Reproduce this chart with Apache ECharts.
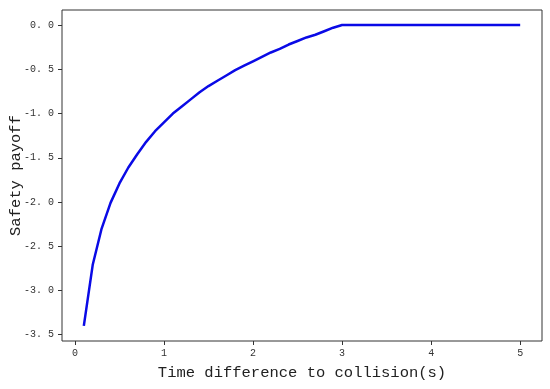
<!DOCTYPE html>
<html>
<head>
<meta charset="utf-8">
<script src="https://cdn.jsdelivr.net/npm/echarts@6/dist/echarts.min.js"></script>
<style>
  html, body { margin: 0; padding: 0; background: #fff; }
  #chart { width: 550px; height: 389px; }
</style>
</head>
<body>
<div id="chart"></div>
<script>
// time difference to collision (s)
const timeDiff = [
  0.1, 0.2, 0.3, 0.4, 0.5, 0.6, 0.7, 0.8, 0.9, 1.0,
  1.1, 1.2, 1.3, 1.4, 1.5, 1.6, 1.7, 1.8, 1.9, 2.0,
  2.1, 2.2, 2.3, 2.4, 2.5, 2.6, 2.7, 2.8, 2.9, 3.0,
  3.5, 4.0, 4.5, 5.0
];
// safety payoff
const payoff = [
  -3.40, -2.71, -2.30, -2.01, -1.79, -1.61, -1.46, -1.32, -1.20, -1.10,
  -1.00, -0.92, -0.84, -0.76, -0.69, -0.63, -0.57, -0.51, -0.46, -0.41,
  -0.36, -0.31, -0.27, -0.22, -0.18, -0.14, -0.11, -0.07, -0.03, 0.0,
  0.0, 0.0, 0.0, 0.0
];
const xTicks = [0, 1, 2, 3, 4, 5];
const yTicks = [0.0, -0.5, -1.0, -1.5, -2.0, -2.5, -3.0, -3.5];

const chart = echarts.init(document.getElementById('chart'));

const labelFont = { fontFamily: 'Liberation Mono', fontSize: 10, color: '#333' };
const nameFont = { fontFamily: 'Liberation Mono', fontSize: 15.5, color: '#222' };

chart.setOption({
  animation: false,
  grid: {
    left: 62, right: 8, top: 10, bottom: 48,
    outerBoundsMode: 'none',
    containLabel: false,
    show: true, borderColor: '#333', borderWidth: 1
  },
  xAxis: {
    type: 'value',
    min: -0.145, max: 5.245,
    name: 'Time difference to collision(s)',
    nameLocation: 'middle',
    nameGap: 24,
    nameMoveOverlap: false,
    nameTextStyle: nameFont,
    axisLine: { show: false, onZero: false },
    axisTick: { show: true, length: 4, inside: false, customValues: xTicks, lineStyle: { color: '#333' } },
    axisLabel: { ...labelFont, margin: 7, customValues: xTicks, formatter: v => String(v) },
    splitLine: { show: false }
  },
  yAxis: {
    type: 'value',
    min: -3.571, max: 0.17,
    name: 'Safety payoff',
    nameLocation: 'middle',
    nameGap: 38,
    nameMoveOverlap: false,
    nameTextStyle: nameFont,
    axisLine: { show: false, onZero: false },
    axisTick: { show: true, length: 4, inside: false, customValues: yTicks, lineStyle: { color: '#333' } },
    axisLabel: { ...labelFont, margin: 8, customValues: yTicks, formatter: v => v.toFixed(1).replace('.', '. ') },
    splitLine: { show: false }
  },
  series: [{
    type: 'line',
    data: timeDiff.map((t, i) => [t, payoff[i]]),
    showSymbol: false,
    smooth: false,
    lineStyle: { color: '#0a0ae6', width: 2.5 }
  }]
});
</script>
</body>
</html>
